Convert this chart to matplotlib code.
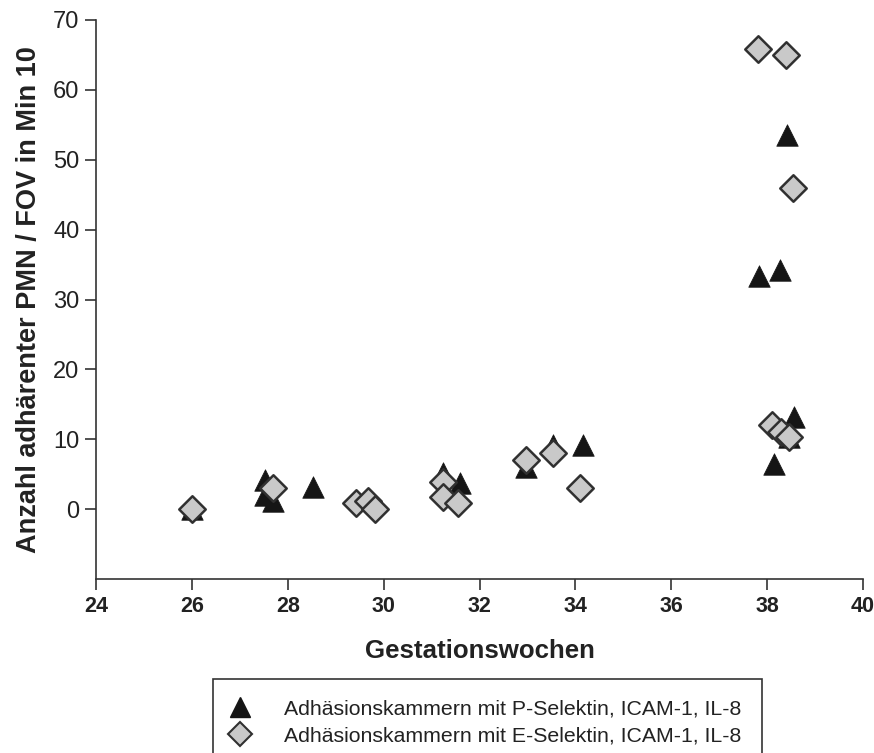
import matplotlib
matplotlib.use("Agg")
import matplotlib.pyplot as plt
from matplotlib.lines import Line2D

plt.rcParams['font.family'] = ['Liberation Sans', 'DejaVu Sans']

# P-Selektin, ICAM-1, IL-8 (triangles)
p_weeks = [26.0, 27.53, 27.53, 27.7, 28.53, 31.24, 31.6, 32.96, 33.54, 34.15,
           37.83, 38.27, 38.42, 38.56, 38.45, 38.14]
p_values = [0.0, 4.1, 2.0, 1.1, 3.2, 5.2, 3.7, 6.0, 9.2, 9.2,
            33.3, 34.2, 53.5, 13.2, 10.3, 6.5]

# E-Selektin, ICAM-1, IL-8 (diamonds)
e_weeks = [26.0, 27.7, 29.42, 29.68, 29.83, 31.24, 31.24, 31.56, 32.96, 33.54, 34.1,
           37.82, 38.4, 38.55, 38.1, 38.28, 38.45]
e_values = [0.0, 3.0, 0.9, 1.2, 0.0, 3.9, 1.8, 0.9, 7.0, 8.0, 3.0,
            65.9, 65.0, 46.0, 12.0, 11.0, 10.3]

x_ticks = [24, 26, 28, 30, 32, 34, 36, 38, 40]
y_ticks = [0, 10, 20, 30, 40, 50, 60, 70]

label_p = "Adhäsionskammern mit P-Selektin, ICAM-1, IL-8"
label_e = "Adhäsionskammern mit E-Selektin, ICAM-1, IL-8"

fig = plt.figure(figsize=(8.74, 7.53), dpi=100)
ax = fig.add_axes([96/874, 1-579/753, (863-96)/874, (579-20)/753])

ax.scatter(p_weeks, p_values, marker='^', s=15.5**2, color='#151515',
           edgecolors='#151515', linewidths=0.5, zorder=3)
ax.scatter(e_weeks, e_values, marker='D', s=13.5**2, facecolor='#c9c9c9',
           edgecolors='#303030', linewidths=1.8, zorder=4)

ax.set_xlim(24, 40)
ax.set_ylim(-10, 70)
ax.set_xticks(x_ticks)
ax.set_yticks(y_ticks)
ax.spines['top'].set_visible(False)
ax.spines['right'].set_visible(False)
for s in ['left', 'bottom']:
    ax.spines[s].set_color('#333333')
    ax.spines[s].set_linewidth(1.2)
ax.tick_params(axis='both', direction='out', length=8, width=1.2, color='#333333')
ax.tick_params(axis='y', labelsize=17, pad=4, labelcolor='#222222')
ax.tick_params(axis='x', labelsize=15.5, pad=4, labelcolor='#222222')
for t in ax.get_xticklabels():
    t.set_fontweight('bold')

ax.set_xlabel("Gestationswochen", fontsize=18.6, fontweight='bold', labelpad=16, color='#222222')
ax.set_ylabel("Anzahl adhärenter PMN / FOV in Min 10", fontsize=19.5, fontweight='bold',
              labelpad=8, color='#222222')

handles = [
    Line2D([], [], marker='^', linestyle='none', markersize=14, color='#151515'),
    Line2D([], [], marker='D', linestyle='none', markersize=12, markerfacecolor='#c9c9c9',
           markeredgecolor='#303030', markeredgewidth=1.5),
]
leg = fig.legend(handles, [label_p, label_e], loc='upper left',
                 bbox_to_anchor=(213/874, 1-679/753), fontsize=15.3, frameon=True,
                 fancybox=False, edgecolor='#333333', framealpha=1, borderaxespad=0,
                 borderpad=0.95, handletextpad=1.8, labelspacing=0.4, handlelength=0.6)
leg.get_frame().set_linewidth(1.2)
for t in leg.get_texts():
    t.set_color('#222222')

fig.savefig("out.png", dpi=100)
